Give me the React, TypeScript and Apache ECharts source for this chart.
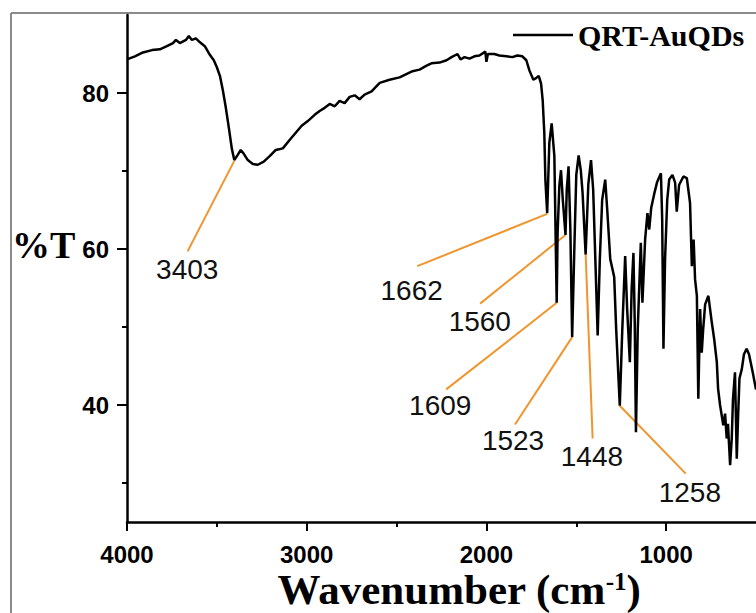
import React, { useEffect, useRef } from "react";
import * as echarts from "echarts";

// FTIR spectrum of QRT-AuQDs (wavenumber in cm^-1, transmittance in %T)
const wavenumbers = [
  4000, 3956, 3911, 3861, 3817, 3778, 3744, 3728, 3706, 3672, 3656, 3639, 3617, 3594, 3567, 3539,
  3517, 3500, 3483, 3467, 3450, 3433, 3417, 3403, 3383, 3367, 3350, 3328, 3300, 3272, 3239, 3206,
  3172, 3133, 3094, 3061, 3028, 2994, 2956, 2928, 2900, 2872, 2844, 2817, 2789, 2761, 2733, 2706,
  2678, 2639, 2594, 2539, 2483, 2411, 2372, 2333, 2306, 2261, 2222, 2194, 2161, 2144, 2122, 2094,
  2067, 2039, 2006, 2000, 1992, 1956, 1928, 1889, 1856, 1828, 1800, 1778, 1761, 1739, 1724, 1709,
  1696, 1687, 1678, 1672, 1662, 1650, 1637, 1622, 1609, 1604, 1594, 1585, 1575, 1560, 1553, 1543,
  1533, 1523, 1511, 1500, 1487, 1475, 1465, 1448, 1433, 1418, 1406, 1394, 1381, 1369, 1356, 1339,
  1328, 1311, 1289, 1278, 1258, 1244, 1228, 1217, 1202, 1192, 1182, 1175, 1168, 1158, 1141, 1132,
  1117, 1104, 1094, 1083, 1067, 1050, 1029, 1022, 1015, 1006, 994, 983, 965, 950, 941, 928,
  904, 885, 867, 857, 847, 839, 829, 821, 811, 802, 794, 783, 765, 746, 733, 718,
  711, 700, 682, 672, 663, 656, 644, 635, 628, 617, 607, 600, 592, 579, 567, 552,
  539, 528, 515, 506, 500,
];
const transmittance = [
  84.3, 84.7, 85.2, 85.5, 85.6, 86.0, 86.4, 86.8, 86.4, 86.8, 87.3, 86.8, 87.0, 86.5, 86.0, 84.9,
  84.2, 83.3, 82.2, 80.4, 78.1, 75.5, 72.9, 71.4, 72.1, 72.7, 72.2, 71.4, 70.9, 70.8, 71.2, 71.9,
  72.7, 72.9, 74.0, 74.9, 75.8, 76.4, 77.2, 77.7, 78.1, 78.6, 78.3, 79.0, 78.7, 79.5, 79.7, 79.2,
  79.8, 80.2, 81.3, 81.7, 82.0, 82.8, 83.0, 83.5, 83.8, 83.9, 84.2, 84.6, 85.0, 84.3, 84.6, 84.4,
  84.7, 84.8, 85.3, 84.0, 85.0, 85.0, 84.8, 84.7, 84.6, 84.8, 84.7, 84.2, 82.9, 81.7, 81.9, 82.2,
  81.2, 79.1, 74.9, 68.9, 64.6, 73.6, 76.1, 71.9, 53.1, 62.1, 68.2, 70.1, 66.3, 61.8, 67.6, 70.6,
  62.5, 48.7, 59.9, 69.5, 72.0, 70.1, 67.2, 59.3, 68.3, 71.4, 67.6, 58.7, 48.9, 58.7, 66.3, 68.9,
  65.1, 58.7, 56.4, 49.7, 39.9, 49.7, 59.1, 52.3, 45.5, 54.8, 59.5, 51.0, 36.5, 49.7, 60.8, 53.1,
  61.2, 64.6, 62.5, 65.3, 67.0, 68.6, 69.7, 63.8, 47.2, 58.7, 66.3, 68.9, 69.5, 68.5, 64.8, 68.2,
  69.3, 69.1, 65.9, 57.8, 61.2, 56.1, 54.0, 40.8, 52.3, 46.7, 49.7, 52.9, 54.0, 50.6, 48.5, 45.5,
  42.1, 40.0, 37.4, 38.9, 35.7, 37.6, 32.3, 35.7, 40.8, 44.2, 33.1, 38.3, 43.4, 44.6, 46.5, 47.2,
  46.5, 45.3, 43.8, 42.7, 42.0,
];

// Peak annotations
const peakLabels = ["3403", "1662", "1560", "1609", "1523", "1448", "1258"];
const peakW = [3403, 1662, 1560, 1609, 1523, 1448, 1258];
const peakT = [71.3, 64.5, 61.8, 53.1, 48.7, 59.4, 39.9];
const leaderEndW = [3663, 2385, 2035, 2224, 1841, 1409, 891];
const leaderEndT = [59.7, 57.8, 53.0, 42.0, 37.5, 35.7, 31.2];
const labelW = [3665, 2416, 2037, 2257, 1852, 1413, 868];
const labelT = [57.4, 54.7, 50.7, 40.0, 35.5, 33.4, 28.8];

// Axis ticks
const xMajorTicks = [1000, 2000, 3000, 4000];
const xMinorTicks = [1500, 2500, 3500];
const yMajorTicks = [40, 60, 80];
const yMinorTicks = [30, 50, 70];

const seriesName = "QRT-AuQDs";
const ORANGE = "#F0952E";
const SERIF = "'Liberation Serif', 'Times New Roman', serif";
const SANS = "'Liberation Sans', Arial, sans-serif";

export default function App() {
  const ref = useRef<HTMLDivElement>(null);

  useEffect(() => {
    if (!ref.current) return;
    const chart = echarts.init(ref.current, null, { renderer: "svg" });

    const spectrum = wavenumbers.map((w, i) => [w, transmittance[i]]);

    const leaderSeries = peakLabels.map((lab, i) => ({
      name: "leader-" + lab,
      type: "line",
      xAxisIndex: 0,
      yAxisIndex: 0,
      data: [
        [peakW[i], peakT[i]],
        [leaderEndW[i], leaderEndT[i]],
      ],
      symbol: "none",
      silent: true,
      lineStyle: { color: ORANGE, width: 2 },
      z: 1,
    }));

    const xBase = {
      type: "value",
      min: 500,
      max: 4000,
      inverse: true,
      splitLine: { show: false },
      gridIndex: 0,
    };
    const yBase = {
      type: "value",
      min: 25,
      max: 90,
      splitLine: { show: false },
      gridIndex: 0,
    };

    chart.setOption({
      animation: false,
      backgroundColor: "#ffffff",
      grid: { left: 127, right: 0, top: 15, bottom: 91, containLabel: false },
      legend: {
        data: [seriesName],
        left: 508,
        top: 15,
        icon: "rect",
        itemWidth: 60,
        itemHeight: 2.5,
        itemGap: 0,
        itemStyle: { color: "#000" },
        textStyle: {
          fontFamily: SERIF,
          fontWeight: "bold",
          fontSize: 30,
          color: "#000",
        },
        selectedMode: false,
      },
      xAxis: [
        {
          ...xBase,
          position: "bottom",
          axisLine: { show: true, onZero: false, lineStyle: { color: "#000", width: 2.5 } },
          axisTick: {
            show: true,
            customValues: xMajorTicks,
            length: 9,
            lineStyle: { color: "#000", width: 2 },
          },
          axisLabel: {
            show: true,
            customValues: xMajorTicks,
            formatter: (v: number) => String(v),
            margin: 20,
            fontFamily: SANS,
            fontWeight: "bold",
            fontSize: 24,
            color: "#000",
          },
        },
        {
          ...xBase,
          position: "bottom",
          axisLine: { show: false, onZero: false },
          axisTick: {
            show: true,
            customValues: xMinorTicks,
            length: 5,
            lineStyle: { color: "#000", width: 2 },
          },
          axisLabel: { show: false },
        },
      ],
      yAxis: [
        {
          ...yBase,
          position: "left",
          axisLine: { show: true, onZero: false, lineStyle: { color: "#000", width: 2.5 } },
          axisTick: {
            show: true,
            customValues: yMajorTicks,
            length: 10,
            lineStyle: { color: "#000", width: 2 },
          },
          axisLabel: {
            show: true,
            customValues: yMajorTicks,
            formatter: (v: number) => String(v),
            margin: 18,
            fontFamily: SANS,
            fontWeight: "bold",
            fontSize: 24,
            color: "#000",
          },
        },
        {
          ...yBase,
          position: "left",
          axisLine: { show: false, onZero: false },
          axisTick: {
            show: true,
            customValues: yMinorTicks,
            length: 5,
            lineStyle: { color: "#000", width: 2 },
          },
          axisLabel: { show: false },
        },
      ],
      series: [
        ...leaderSeries,
        {
          name: "peak-labels",
          type: "scatter",
          xAxisIndex: 0,
          yAxisIndex: 0,
          symbolSize: 0,
          silent: true,
          itemStyle: { opacity: 1 },
          data: labelW.map((w, i) => ({ value: [w, labelT[i]], name: peakLabels[i] })),
          label: {
            show: true,
            position: "inside",
            formatter: "{b}",
            fontFamily: SANS,
            fontSize: 28,
            color: "#111",
          },
          z: 2,
        },
        {
          name: seriesName,
          type: "line",
          xAxisIndex: 0,
          yAxisIndex: 0,
          data: spectrum,
          symbol: "none",
          showSymbol: false,
          clip: true,
          lineStyle: { color: "#000", width: 2.5 },
          itemStyle: { color: "#000" },
          z: 3,
        },
      ],
      graphic: [
        {
          type: "line",
          shape: { x1: 11, y1: 13, x2: 756, y2: 13 },
          style: { stroke: "#8a8a8a", lineWidth: 2 },
          silent: true,
        },
        {
          type: "line",
          shape: { x1: 11, y1: 13, x2: 11, y2: 613 },
          style: { stroke: "#8a8a8a", lineWidth: 2 },
          silent: true,
        },
        {
          type: "text",
          left: 12,
          top: 226,
          style: {
            text: "%T",
            font: "bold 38px " + SERIF,
            fill: "#000",
          },
          silent: true,
        },
        {
          type: "text",
          x: 459,
          y: 589,
          style: {
            text: "{a|Wavenumber (cm}{b|-1}{a|)}",
            align: "center",
            verticalAlign: "middle",
            rich: {
              a: { fontFamily: SERIF, fontWeight: "bold", fontSize: 43, color: "#000", lineHeight: 40 },
              b: {
                fontFamily: SERIF,
                fontWeight: "bold",
                fontSize: 25,
                color: "#000",
                verticalAlign: "top",
                lineHeight: 40,
                padding: [0, 0, 14, 0],
              },
            },
          },
          silent: true,
        },
      ],
    });

    return () => chart.dispose();
  }, []);

  return (
    <div
      ref={ref}
      style={{ position: "fixed", left: 0, top: 0, width: 756, height: 613, background: "#fff" }}
    />
  );
}
